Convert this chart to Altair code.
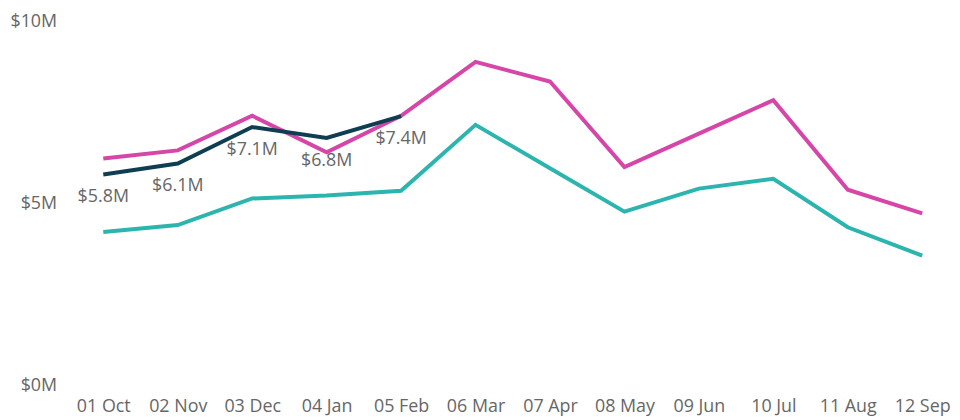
import altair as alt
import pandas as pd

months = ["01 Oct", "02 Nov", "03 Dec", "04 Jan", "05 Feb", "06 Mar",
          "07 Apr", "08 May", "09 Jun", "10 Jul", "11 Aug", "12 Sep"]
target = [6.24, 6.46, 7.41, 6.41, 7.41, 8.89, 8.35, 6.00, 6.92, 7.84, 5.38, 4.73]
last_year = [4.22, 4.41, 5.14, 5.22, 5.35, 7.16, 5.97, 4.78, 5.41, 5.68, 4.35, 3.57]
actual = [5.8, 6.1, 7.1, 6.8, 7.4]

series_names = ["Last Year", "Target", "Actual"]
series_colors = ["#2CB5AE", "#D645A8", "#0F3E52"]

rows = []
for m, v in zip(months, last_year):
    rows.append({"Month": m, "Value": v, "Series": "Last Year", "order": 0})
for m, v in zip(months, target):
    rows.append({"Month": m, "Value": v, "Series": "Target", "order": 1})
for m, v in zip(months, actual):
    rows.append({"Month": m, "Value": v, "Series": "Actual", "order": 2})
df = pd.DataFrame(rows)
df_actual = df[df["Series"] == "Actual"]

FONT = "Open Sans"
GRAY = "#666666"
FS = 18

x = alt.X("Month:N", sort=months, title=None,
          scale=alt.Scale(type="point", padding=0.4),
          axis=alt.Axis(labelAngle=0, ticks=False, domain=False, grid=False,
                        labelFontSize=FS, labelColor=GRAY, labelFont=FONT,
                        labelPadding=12))
y = alt.Y("Value:Q", title=None,
          scale=alt.Scale(domain=[0, 10]),
          axis=alt.Axis(values=[0, 5, 10], ticks=False, domain=False, grid=False,
                        labelExpr="'$' + datum.value + 'M'",
                        labelFontSize=FS, labelColor=GRAY, labelFont=FONT,
                        labelPadding=17))

lines = alt.Chart(df).mark_line(strokeWidth=4).encode(
    x=x, y=y,
    color=alt.Color("Series:N", scale=alt.Scale(domain=series_names, range=series_colors),
                    legend=None),
    order=alt.Order("order:Q"),
    detail="Series:N",
)

labels = alt.Chart(df_actual).mark_text(
    dy=23, fontSize=FS, font=FONT, color=GRAY, baseline="middle", align="center"
).encode(
    x=alt.X("Month:N", sort=months),
    y="Value:Q",
    text=alt.Text("label:N"),
).transform_calculate(label="'$' + format(datum.Value, '.1f') + 'M'")

chart = alt.layer(lines, labels).properties(
    width=885, height=367,
    autosize=alt.AutoSizeParams(type="none"),
    padding={"left": 66, "top": 12, "right": 0, "bottom": 33},
).configure_view(stroke=None)

chart.save("out.html", embed_options={"renderer": "svg", "actions": False})
